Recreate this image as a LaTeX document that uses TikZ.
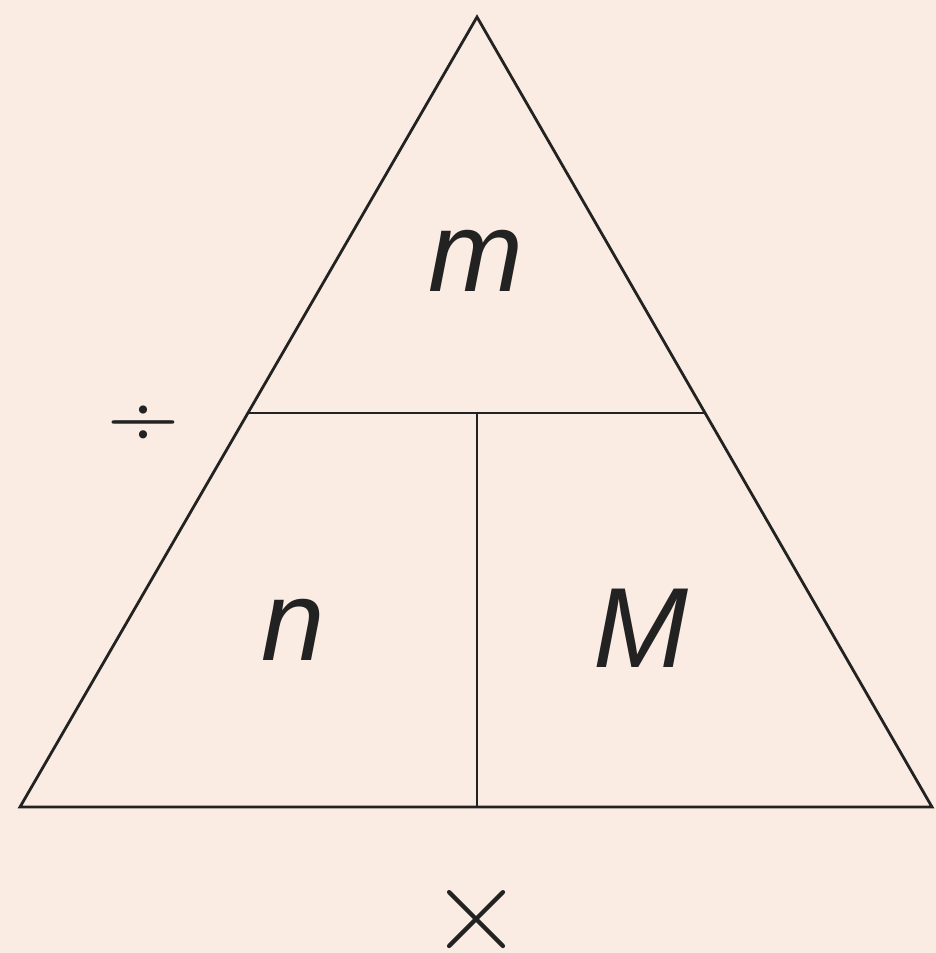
\documentclass[tikz,border=0pt]{standalone}
\usepackage{fontspec}
\setmainfont{Liberation Sans}
\newfontfamily\symfont{Latin Modern Roman}
\definecolor{bg}{HTML}{FAECE2}
\definecolor{ink}{HTML}{222222}
\begin{document}
\begin{tikzpicture}[x=1pt,y=-1pt,
  edge/.style={draw=ink,line width=2.8pt,line join=miter},
  lbl/.style={text=ink,inner sep=0pt,font=\fontsize{114}{114}\selectfont\itshape},
  sym/.style={text=ink,inner sep=0pt,font=\symfont\fontsize{100}{100}\selectfont}]
\fill[bg] (0,0) rectangle (936,953);
\useasboundingbox (0,0) rectangle (936,953);
\coordinate (A) at (477,17);
\coordinate (B) at (20,807);
\coordinate (C) at (932,807);
\coordinate (L) at (248,413);
\coordinate (R) at (706,413);
\coordinate (T) at (477,413);
\coordinate (D) at (477,807);
\draw[edge] (A) -- (B) -- (C) -- cycle;
\draw[edge] (L) -- (R);
\draw[edge] (T) -- (D);
\node[lbl] (m) at (476,261) {m};
\node[lbl] (n) at (293,630) {n};
\node[lbl] (M) at (641,628) {M};
\node[sym] (div) at (143,427) {÷};
\node[sym,font=\symfont\fontsize{128}{128}\selectfont] (mul) at (477,921) {×};
\end{tikzpicture}
\end{document}
